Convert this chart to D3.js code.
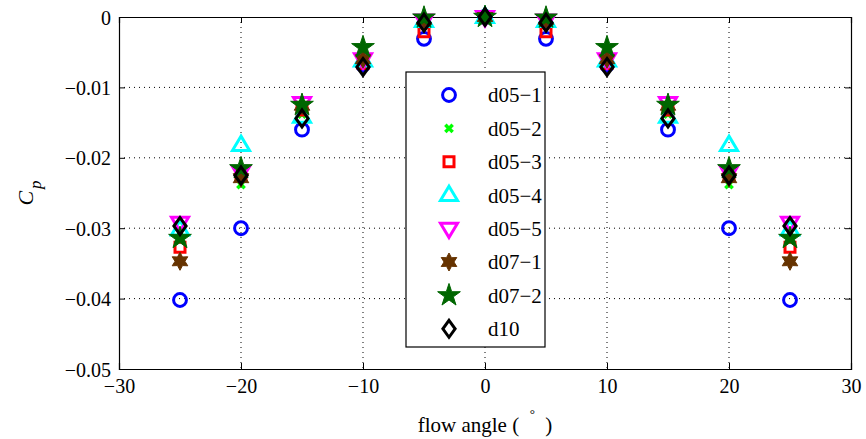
<!DOCTYPE html>
<html>
<head>
<meta charset="utf-8">
<script src="https://cdn.jsdelivr.net/npm/d3@7"></script>
<style>
    body { margin: 0; background: #fff; }
    svg text { font-family: "Liberation Serif", "Times New Roman", serif !important; }
</style>
</head>
<body>
<script>
var angles = [-25, -20, -15, -10, -5, 0, 5, 10, 15, 20, 25];
var seriesNames = ['d05\u22121', 'd05\u22122', 'd05\u22123', 'd05\u22124', 'd05\u22125', 'd07\u22121', 'd07\u22122', 'd10'];
var d05_1 = [-0.0402, -0.0300, -0.0160, -0.0068, -0.0031, 0, -0.0031, -0.0068, -0.0160, -0.0300, -0.0402];
var d05_2 = [-0.0315, -0.0238, -0.0138, -0.0065, -0.0006, 0, -0.0006, -0.0065, -0.0138, -0.0238, -0.0315];
var d05_3 = [-0.0327, -0.0225, -0.0132, -0.0066, -0.0021, 0, -0.0021, -0.0066, -0.0132, -0.0225, -0.0327];
var d05_4 = [-0.0302, -0.0182, -0.0142, -0.0062, -0.0006, 0, -0.0006, -0.0062, -0.0142, -0.0182, -0.0302];
var d05_5 = [-0.0292, -0.0220, -0.0122, -0.0060, -0.0005, 0, -0.0005, -0.0060, -0.0122, -0.0220, -0.0292];
var d07_1 = [-0.0347, -0.0229, -0.0126, -0.0060, -0.0004, 0, -0.0004, -0.0060, -0.0126, -0.0229, -0.0347];
var d07_2 = [-0.0314, -0.0215, -0.0125, -0.0043, -0.0001, 0, -0.0001, -0.0043, -0.0125, -0.0215, -0.0314];
var d10   = [-0.0297, -0.0225, -0.0144, -0.0071, -0.0008, 0, -0.0008, -0.0071, -0.0144, -0.0225, -0.0297];
var xTicks = [-30, -20, -10, 0, 10, 20, 30];
var yTicks = [0, -0.01, -0.02, -0.03, -0.04, -0.05];

window.onload = function() {
    var w = 866, h = 439;
    var left = 119, right = 851, top = 17, bottom = 369;
    var serif = 'Liberation Serif, Times New Roman, serif';

    var svg = d3.select('body').append('svg')
        .attr('width', w)
        .attr('height', h)
        .attr('font-family', serif);

    var x = d3.scaleLinear().domain([-30, 30]).range([left, right]);
    var y = d3.scaleLinear().domain([-0.05, 0]).range([bottom, top]);

    // grid
    svg.append('g').selectAll('line')
        .data(xTicks.slice(1, -1))
        .enter().append('line')
        .attr('x1', function(d) { return x(d); })
        .attr('x2', function(d) { return x(d); })
        .attr('y1', top).attr('y2', bottom)
        .style('stroke', '#000').style('stroke-width', 1)
        .style('stroke-dasharray', '1,4');
    svg.append('g').selectAll('line')
        .data(yTicks.slice(1, -1))
        .enter().append('line')
        .attr('y1', function(d) { return y(d); })
        .attr('y2', function(d) { return y(d); })
        .attr('x1', left).attr('x2', right)
        .style('stroke', '#000').style('stroke-width', 1)
        .style('stroke-dasharray', '1,4');

    // axes (ticks inward)
    var fmtY = function(d) { return d === 0 ? '0' : '\u2212' + Math.abs(d).toFixed(2); };
    var fmtX = function(d) { return d < 0 ? '\u2212' + Math.abs(d) : '' + d; };

    svg.append('g')
        .attr('transform', 'translate(0,' + bottom + ')')
        .call(d3.axisBottom(x).tickValues(xTicks).tickSize(-6).tickPadding(10).tickFormat(fmtX));
    svg.append('g')
        .attr('transform', 'translate(0,' + top + ')')
        .call(d3.axisTop(x).tickValues(xTicks).tickSize(-6).tickFormat(''));
    var yAxis = svg.append('g')
        .attr('transform', 'translate(' + left + ',0)')
        .call(d3.axisLeft(y).tickValues(yTicks).tickSize(-6).tickPadding(8).tickFormat(fmtY));
    svg.append('g')
        .attr('transform', 'translate(' + right + ',0)')
        .call(d3.axisRight(y).tickValues(yTicks).tickSize(-6).tickFormat(''));

    svg.selectAll('g').attr('font-family', serif);
    svg.selectAll('.domain').style('stroke', '#000').style('stroke-width', 1.2);
    svg.selectAll('.tick line').style('stroke', '#000');
    svg.selectAll('.tick text')
        .attr('font-family', serif)
        .attr('font-size', 20)
        .style('fill', '#000');
    yAxis.selectAll('.tick text').attr('dy', '0.35em');

    // marker shapes
    function hexagram(s) {
        var pts = [];
        for (var i = 0; i < 12; i++) {
            var r = i % 2 === 0 ? s : s * 0.55;
            var a = -Math.PI / 2 + i * Math.PI / 6;
            pts.push([r * Math.cos(a), r * Math.sin(a)]);
        }
        return 'M' + pts.map(function(p) { return p[0].toFixed(2) + ',' + p[1].toFixed(2); }).join('L') + 'Z';
    }
    function triangle(s, down) {
        var k = down ? -1 : 1;
        return 'M0,' + (-s * k) + 'L' + (s * 0.95) + ',' + (s * 0.6 * k) + 'L' + (-s * 0.95) + ',' + (s * 0.6 * k) + 'Z';
    }
    function diamond(s) {
        return 'M0,' + (-s) + 'L' + (s * 0.72) + ',0L0,' + s + 'L' + (-s * 0.72) + ',0Z';
    }

    var markers = [
        { path: d3.symbol(d3.symbolCircle, 130)(), color: '#0000ff', fill: 'none', sw: 3 },
        { path: d3.symbol(d3.symbolCross, 60)(), color: '#00ff00', fill: '#00ff00', sw: 0, rotate: 45 },
        { path: d3.symbol(d3.symbolSquare, 100)(), color: '#ff0000', fill: 'none', sw: 3 },
        { path: triangle(9, false), color: '#00ffff', fill: 'none', sw: 3 },
        { path: triangle(9, true), color: '#ff00ff', fill: 'none', sw: 3 },
        { path: hexagram(9), color: '#663300', fill: '#663300', sw: 1 },
        { path: d3.symbol(d3.symbolStar, 160)(), color: '#006600', fill: '#006600', sw: 1 },
        { path: diamond(8.5), color: '#000000', fill: 'none', sw: 3 }
    ];
    var allSeries = [d05_1, d05_2, d05_3, d05_4, d05_5, d07_1, d07_2, d10];

    allSeries.forEach(function(vals, si) {
        var m = markers[si];
        svg.append('g').selectAll('path')
            .data(vals)
            .enter().append('path')
            .attr('d', m.path)
            .attr('transform', function(d, i) {
                return 'translate(' + x(angles[i]) + ',' + y(d) + ')' + (m.rotate ? ' rotate(' + m.rotate + ')' : '');
            })
            .style('fill', m.fill)
            .style('stroke', m.color)
            .style('stroke-width', m.sw)
            .style('stroke-linejoin', 'miter');
    });

    // legend
    var lg = svg.append('g').attr('transform', 'translate(406,72)');
    lg.append('rect')
        .attr('width', 139).attr('height', 275)
        .style('fill', '#fff').style('stroke', '#000').style('stroke-width', 1.2);
    var rows = lg.selectAll('.row')
        .data(seriesNames)
        .enter().append('g')
        .attr('class', 'row')
        .attr('transform', function(d, i) { return 'translate(0,' + (23 + i * 33.4) + ')'; });
    rows.append('path')
        .attr('d', function(d, i) { return markers[i].path; })
        .attr('transform', function(d, i) { return 'translate(43,0)' + (markers[i].rotate ? ' rotate(45)' : ''); })
        .style('fill', function(d, i) { return markers[i].fill; })
        .style('stroke', function(d, i) { return markers[i].color; })
        .style('stroke-width', function(d, i) { return markers[i].sw; });
    rows.append('text')
        .attr('x', 82).attr('dy', '0.35em')
        .attr('font-family', serif)
        .attr('font-size', 21)
        .text(function(d) { return d; });

    // axis labels
    var xl = svg.append('text')
        .attr('x', x(0)).attr('y', 432)
        .attr('text-anchor', 'middle')
        .attr('font-family', serif)
        .attr('font-size', 21);
    xl.append('tspan').text('flow angle (\u2002');
    xl.append('tspan').attr('dy', -14).attr('font-size', 13).text('\u00b0');
    xl.append('tspan').attr('dy', 14).text('\u2002)');

    var yl = svg.append('text')
        .attr('transform', 'translate(33,193) rotate(-90)')
        .attr('text-anchor', 'middle')
        .attr('font-family', serif)
        .attr('font-size', 22)
        .style('font-style', 'italic')
        .text('C');
    yl.append('tspan')
        .attr('dy', 8).attr('dx', 2)
        .attr('font-size', 17)
        .text('p');
};
</script>
</body>
</html>
